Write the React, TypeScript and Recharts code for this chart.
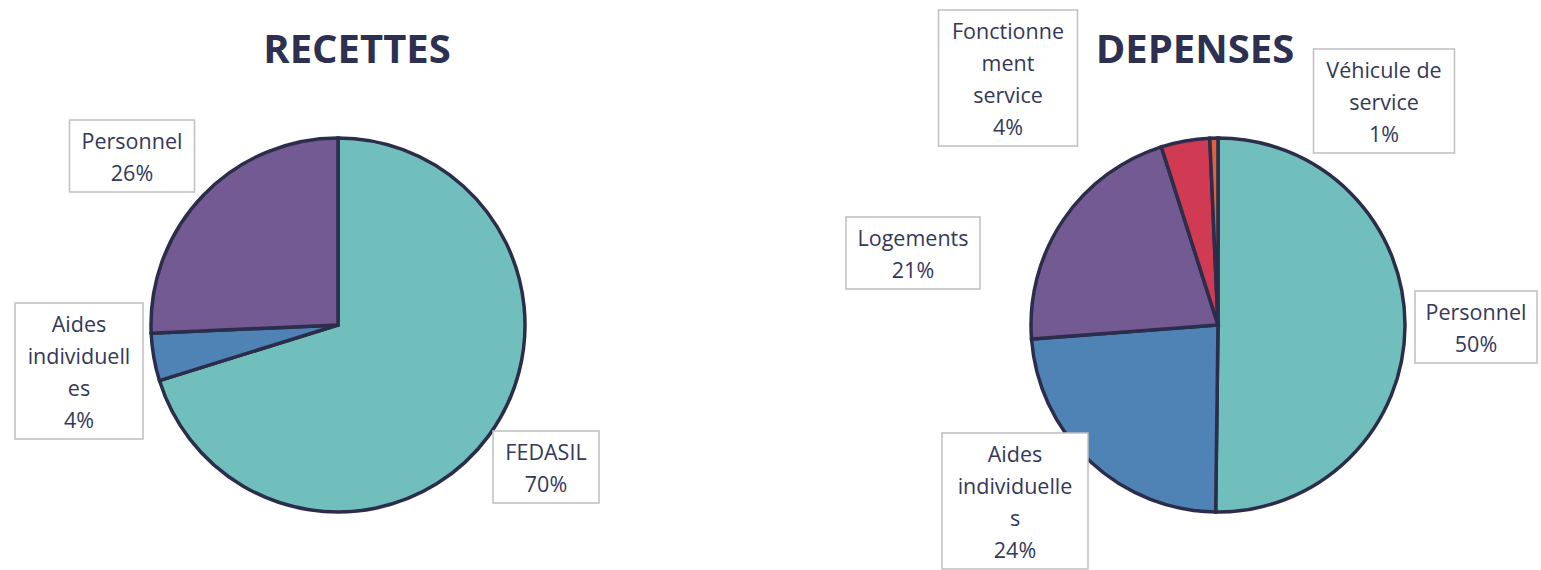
import React from "react";
import { PieChart, Pie, Cell } from "recharts";

// ---- Data ----
const recettesNames = ["FEDASIL", "Aides individuelles", "Personnel"];
const recettesValues = [70.2, 4.1, 25.7];

const depensesNames = ["Personnel", "Aides individuelles", "Logements", "Fonctionnement service", "Véhicule de service"];
const depensesValues = [50.2, 23.6, 21.3, 4.2, 0.7];

const titles = ["RECETTES", "DEPENSES"];

// ---- Styles / layout ----
const recettesColors = ["#71BFBC", "#4F82B5", "#735A93"];
const depensesColors = ["#71BFBC", "#4F82B5", "#735A93", "#D03A52", "#E2603C"];
const STROKE = "#2B2D4A";
const TEXT = "#34385A";
const FONT = "'Open Sans', sans-serif";
const LINE_H = 32;

// label boxes: offset of box centre from pie centre, box width, wrap chars
const recettesLabelLayout = [
  { dx: 208, dy: 142, w: 106, wrap: 11 },
  { dx: -259, dy: 46, w: 128, wrap: 11 },
  { dx: -206, dy: -169, w: 125, wrap: 11 },
];
const depensesLabelLayout = [
  { dx: 258, dy: 2, w: 122, wrap: 11 },
  { dx: -203, dy: 176, w: 146, wrap: 12 },
  { dx: -305, dy: -72, w: 134, wrap: 11 },
  { dx: -210, dy: -247, w: 139, wrap: 10 },
  { dx: 166, dy: -224, w: 141, wrap: 11 },
];

function wrap(text: string, max: number): string[] {
  const words = text.split(" ");
  const lines: string[] = [];
  let cur = "";
  for (let w of words) {
    if (cur && (cur + " " + w).length <= max) {
      cur = cur + " " + w;
      continue;
    }
    if (cur) lines.push(cur);
    cur = "";
    while (w.length > max) {
      lines.push(w.slice(0, max));
      w = w.slice(max);
    }
    cur = w;
  }
  if (cur) lines.push(cur);
  return lines;
}

function makeLabel(layout: { dx: number; dy: number; w: number; wrap: number }[]) {
  return (props: any) => {
    const { cx, cy, index, name, percent } = props;
    const l = layout[index];
    const lines = [...wrap(name, l.wrap), `${Math.round(percent * 100)}%`];
    const h = lines.length * LINE_H + 8;
    const bx = cx + l.dx - l.w / 2;
    const by = cy + l.dy - h / 2;
    return (
      <g key={`lbl-${index}`}>
        <rect x={bx} y={by} width={l.w} height={h} fill="#FFFFFF" stroke="#BFBFBF" strokeWidth={1.5} />
        {lines.map((t, i) => (
          <text
            key={i}
            x={cx + l.dx}
            y={by + 4 + LINE_H * i + LINE_H / 2}
            textAnchor="middle"
            dominantBaseline="central"
            fill={TEXT}
            fontFamily={FONT}
            fontSize={21.5}
          >
            {t}
          </text>
        ))}
      </g>
    );
  };
}

const recettesData = recettesNames.map((name, i) => ({ name, value: recettesValues[i] }));
const depensesData = depensesNames.map((name, i) => ({ name, value: depensesValues[i] }));

export default function App() {
  return (
    <div style={{ position: "absolute", left: 0, top: 0, width: 1541, height: 570, overflow: "hidden", background: "#fff" }}>
      <PieChart width={1541} height={620} margin={{ top: 0, right: 0, bottom: 0, left: 0 }}>
        <Pie
          data={recettesData}
          dataKey="value"
          nameKey="name"
          cx={338}
          cy={325}
          outerRadius={187}
          startAngle={90}
          endAngle={-270}
          stroke={STROKE}
          strokeWidth={3.5}
          label={makeLabel(recettesLabelLayout)}
          labelLine={false}
          isAnimationActive={false}
        >
          {recettesData.map((_, i) => (
            <Cell key={i} fill={recettesColors[i]} />
          ))}
        </Pie>
        <Pie
          data={depensesData}
          dataKey="value"
          nameKey="name"
          cx={1218}
          cy={325}
          outerRadius={187}
          startAngle={90}
          endAngle={-270}
          stroke={STROKE}
          strokeWidth={3.5}
          label={makeLabel(depensesLabelLayout)}
          labelLine={false}
          isAnimationActive={false}
        >
          {depensesData.map((_, i) => (
            <Cell key={i} fill={depensesColors[i]} />
          ))}
        </Pie>
      </PieChart>
      <svg width={1541} height={570} style={{ position: "absolute", left: 0, top: 0, pointerEvents: "none" }}>
        <text x={357} y={63} textAnchor="middle" fontFamily={FONT} fontWeight="bold" fontSize={40} fill="#2D3050">
          {titles[0]}
        </text>
        <text x={1195} y={63} textAnchor="middle" fontFamily={FONT} fontWeight="bold" fontSize={40} fill="#2D3050">
          {titles[1]}
        </text>
      </svg>
    </div>
  );
}
